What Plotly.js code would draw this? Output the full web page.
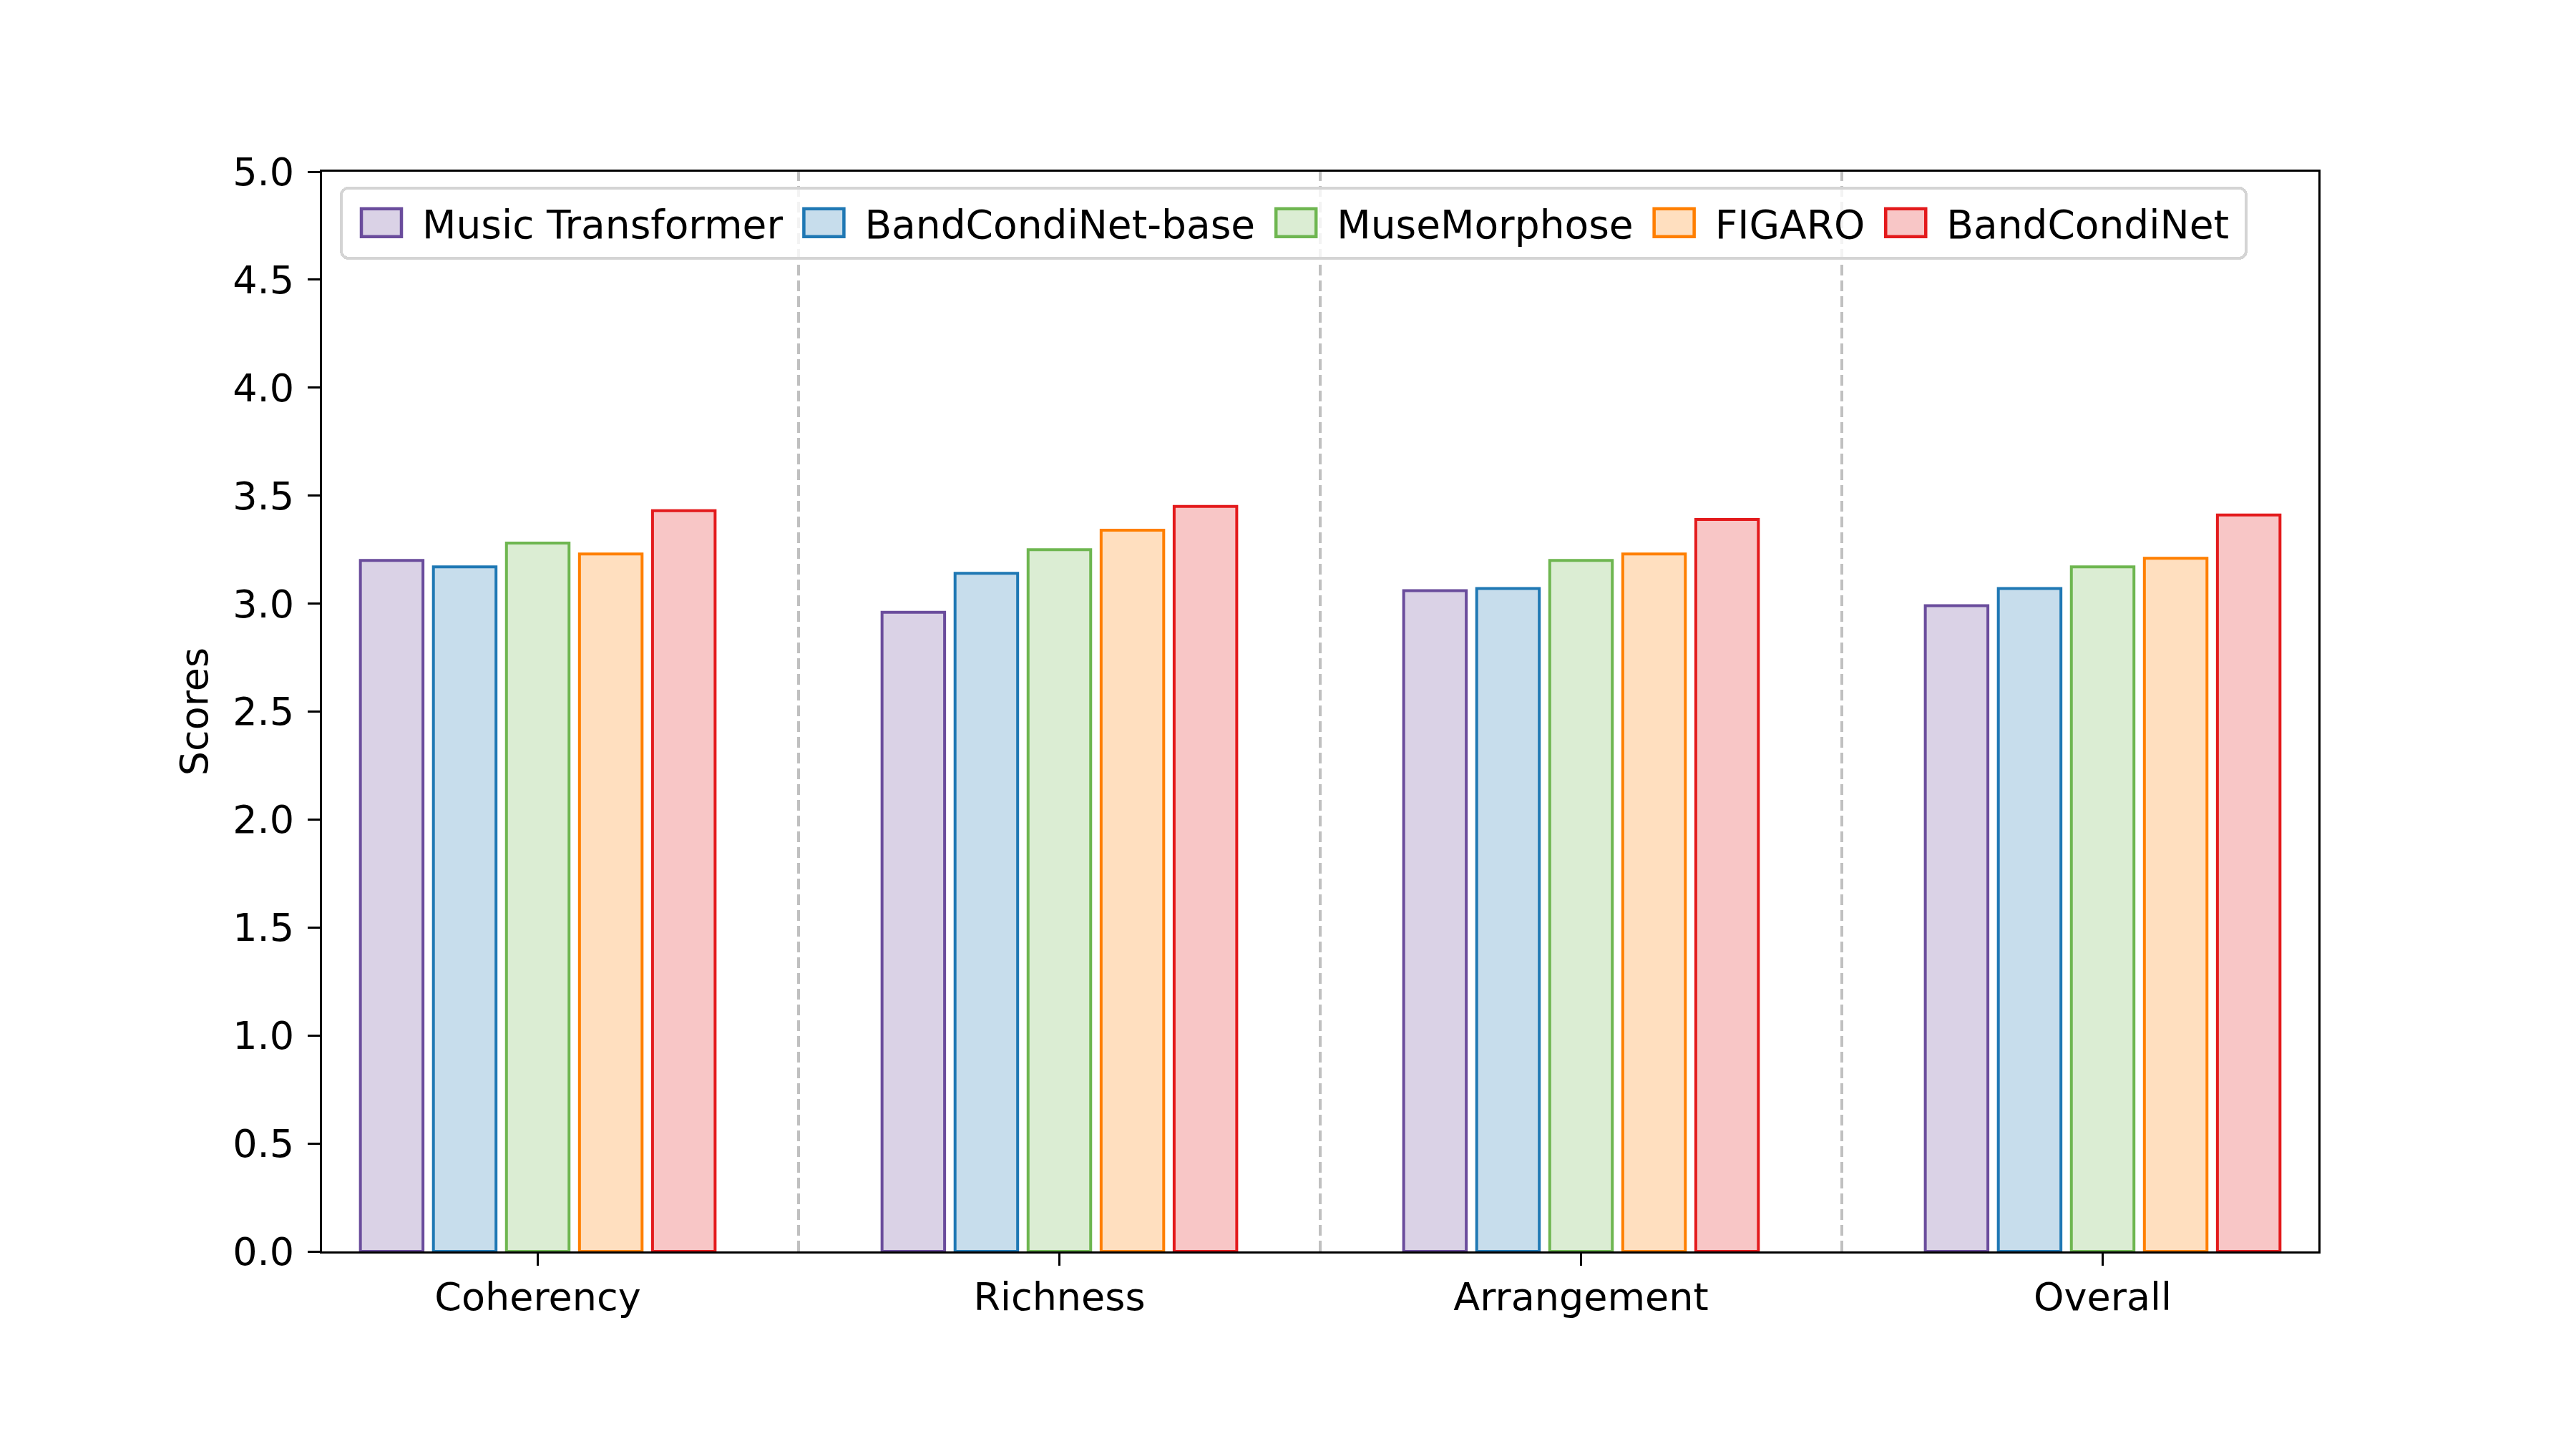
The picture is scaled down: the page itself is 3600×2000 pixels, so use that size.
<!DOCTYPE html>
<html>
<head>
<meta charset="utf-8">
<script src="https://cdn.plot.ly/plotly-3.0.1.min.js"></script>
<style>html,body{margin:0;padding:0;background:#fff;}</style>
</head>
<body>
<div id="chart" style="width:3600px;height:2000px;"></div>
<script>
const categories = ['Coherency', 'Richness', 'Arrangement', 'Overall'];
const models = ['Music Transformer', 'BandCondiNet-base', 'MuseMorphose', 'FIGARO', 'BandCondiNet'];
const musicTransformer = [3.20, 2.96, 3.06, 2.99];
const bandCondiNetBase = [3.17, 3.14, 3.07, 3.07];
const museMorphose     = [3.28, 3.25, 3.20, 3.17];
const figaro           = [3.23, 3.34, 3.23, 3.21];
const bandCondiNet     = [3.43, 3.45, 3.39, 3.41];
const seriesValues = [musicTransformer, bandCondiNetBase, museMorphose, figaro, bandCondiNet];
const edgeColors = ['#6a4c9c', '#1f78b4', '#6eb650', '#ff7f00', '#e31a1c'];
const yTicks = [0, 0.5, 1, 1.5, 2, 2.5, 3, 3.5, 4, 4.5, 5];

function rgba(hex, a) {
  const n = parseInt(hex.slice(1), 16);
  return 'rgba(' + ((n >> 16) & 255) + ',' + ((n >> 8) & 255) + ',' + (n & 255) + ',' + a + ')';
}

const FONT = 'DejaVu Sans, Verdana, sans-serif';
const FS = 54;

const traces = models.map((name, i) => ({
  type: 'bar',
  name: name,
  x: categories,
  y: seriesValues[i],
  marker: { color: rgba(edgeColors[i], 0.25), line: { color: edgeColors[i], width: 4 } },
  hoverinfo: 'x+y+name'
}));

const separators = categories.slice(0, -1).map((c, i) => ({
  type: 'line', xref: 'x', yref: 'paper',
  x0: i + 0.5, x1: i + 0.5, y0: 0, y1: 1,
  line: { color: '#c0c0c0', width: 4, dash: '15px,7px' },
  layer: 'below'
}));

const axisCommon = {
  showgrid: false, zeroline: false,
  showline: true, linecolor: '#000', linewidth: 3.3, mirror: true,
  ticks: 'outside', ticklen: 17, tickwidth: 3.3, tickcolor: '#000',
  tickfont: { family: FONT, size: FS, color: '#000' }
};

const layout = {
  width: 3600, height: 2000, autosize: false,
  margin: { l: 450, r: 360, t: 240, b: 251, pad: 0 },
  paper_bgcolor: '#fff', plot_bgcolor: '#fff',
  font: { family: FONT, size: FS, color: '#000' },
  barmode: 'group', bargap: 0.3, bargroupgap: 0.1429,
  xaxis: Object.assign({}, axisCommon, {
    type: 'category', range: [-0.4136, categories.length - 1 + 0.4136],
    ticklabelstandoff: -3
  }),
  yaxis: Object.assign({}, axisCommon, {
    range: [0, 5], tickvals: yTicks, ticktext: yTicks.map(v => v.toFixed(1)),
    title: { text: 'Scores', font: { family: FONT, size: FS, color: '#000' }, standoff: 18 },
    ticklabelstandoff: 8
  }),
  shapes: separators,
  showlegend: true,
  legend: {
    orientation: 'h', x: 0.00968, y: 0.9835, xanchor: 'left', yanchor: 'top',
    bgcolor: 'rgba(255,255,255,0.8)', bordercolor: '#d4d4d4', borderwidth: 4,
    font: { family: FONT, size: 55, color: '#000' },
    itemwidth: 99, traceorder: 'normal'
  }
};

function fixLegend() {
  const gd = document.getElementById('chart');
  gd.querySelectorAll('g.legendpoints path').forEach(p => {
    p.setAttribute('d', 'M28,19.5H-28V-19.5H28Z');
    p.setAttribute('transform', 'translate(52,0)');
    p.style.strokeWidth = '4.5px';
  });
  const bg = gd.querySelector('g.legend rect.bg');
  if (bg && !bg.dataset.fixed) {
    const y = parseFloat(bg.getAttribute('y') || 0);
    const h = parseFloat(bg.getAttribute('height'));
    const x = parseFloat(bg.getAttribute('x') || 0);
    const w = parseFloat(bg.getAttribute('width'));
    bg.setAttribute('y', y - 4);
    bg.setAttribute('height', h + 9);
    bg.setAttribute('x', x - 2);
    bg.setAttribute('width', w + 18);
    bg.setAttribute('rx', 10);
    bg.setAttribute('ry', 10);
    bg.dataset.fixed = '1';
  }
}

Plotly.newPlot('chart', traces, layout, { displayModeBar: false }).then(gd => {
  fixLegend();
  gd.on('plotly_afterplot', fixLegend);
  setTimeout(fixLegend, 50);
});
</script>
</body>
</html>
